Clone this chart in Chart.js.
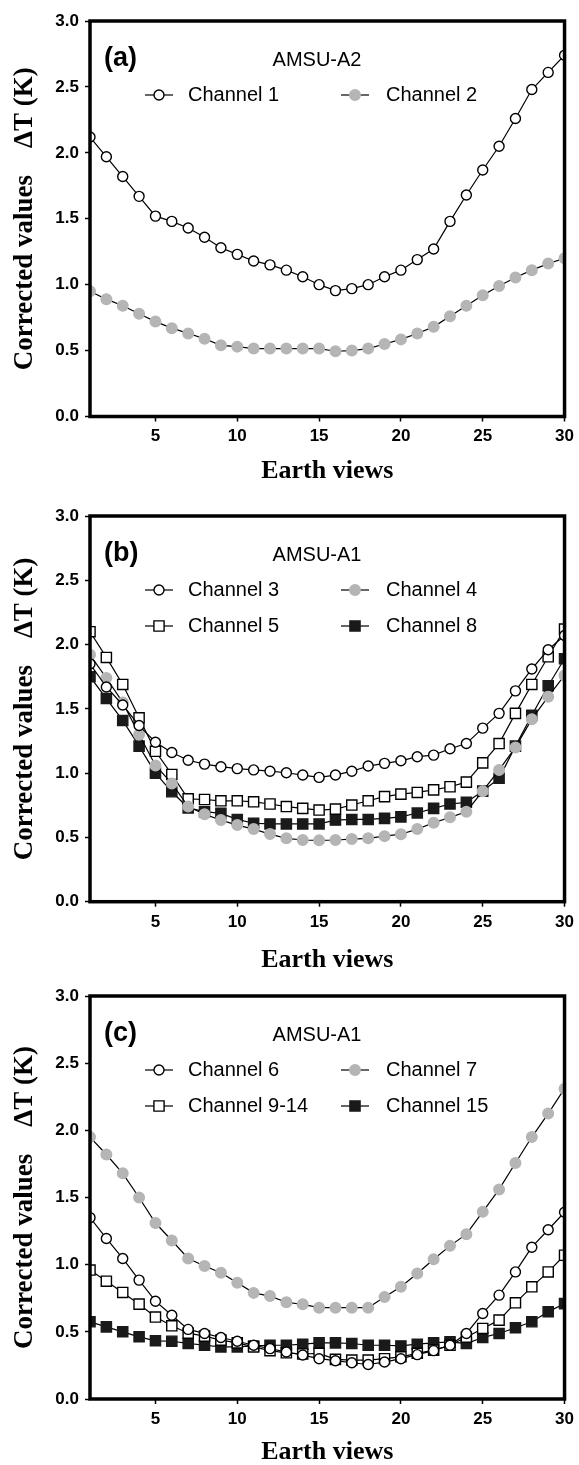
<!DOCTYPE html>
<html lang="en">

<head>
    <meta charset="UTF-8">
    <title>Corrected values by earth view</title>
    <script src="https://cdn.jsdelivr.net/npm/chart.js@4.4.0/dist/chart.umd.min.js"></script>
    <style>
        body {
            margin: 0;
            padding: 0;
            background-color: #fff;
            overflow: hidden;
        }

        .panel {
            position: absolute;
            left: 0;
        }
    </style>
</head>

<body>
    <canvas id="panelA" class="panel" width="579" height="490" style="top:0px"></canvas>
    <canvas id="panelB" class="panel" width="579" height="490" style="top:490px"></canvas>
    <canvas id="panelC" class="panel" width="579" height="490" style="top:975px"></canvas>

    <script>
        // earth view positions and axis ticks
        const views = [1, 2, 3, 4, 5, 6, 7, 8, 9, 10, 11, 12, 13, 14, 15, 16, 17, 18, 19, 20, 21, 22, 23, 24, 25, 26, 27, 28, 29, 30];
        const xTicks = [5, 10, 15, 20, 25, 30];
        const yTicks = [0, 0.5, 1.0, 1.5, 2.0, 2.5, 3.0];

        // (a) AMSU-A2
        const ch1 = [2.12, 1.97, 1.82, 1.67, 1.52, 1.48, 1.43, 1.36, 1.28, 1.23, 1.18, 1.15, 1.11, 1.06, 1.00, 0.955, 0.97, 1.00, 1.06, 1.11, 1.19, 1.27, 1.48, 1.68, 1.87, 2.05, 2.26, 2.48, 2.61, 2.74];
        const ch2 = [0.95, 0.89, 0.84, 0.78, 0.72, 0.67, 0.63, 0.59, 0.54, 0.53, 0.515, 0.515, 0.515, 0.515, 0.515, 0.495, 0.50, 0.515, 0.55, 0.585, 0.63, 0.68, 0.76, 0.84, 0.92, 0.99, 1.055, 1.11, 1.16, 1.20];

        // (b) AMSU-A1
        const ch3 = [1.85, 1.67, 1.53, 1.37, 1.24, 1.16, 1.10, 1.07, 1.05, 1.035, 1.025, 1.015, 1.003, 0.985, 0.967, 0.985, 1.015, 1.055, 1.076, 1.096, 1.128, 1.14, 1.19, 1.23, 1.35, 1.465, 1.64, 1.81, 1.96, 2.07];
        const ch4 = [1.92, 1.74, 1.55, 1.30, 1.06, 0.92, 0.74, 0.68, 0.635, 0.596, 0.565, 0.526, 0.493, 0.48, 0.477, 0.48, 0.487, 0.493, 0.51, 0.525, 0.565, 0.614, 0.656, 0.70, 0.86, 1.025, 1.20, 1.42, 1.595, 1.76];
        const ch5 = [2.10, 1.90, 1.69, 1.43, 1.17, 0.99, 0.80, 0.795, 0.785, 0.785, 0.777, 0.76, 0.74, 0.726, 0.713, 0.72, 0.752, 0.785, 0.817, 0.837, 0.85, 0.87, 0.894, 0.93, 1.08, 1.23, 1.465, 1.69, 1.905, 2.12];
        const ch8 = [1.75, 1.58, 1.41, 1.21, 1.00, 0.855, 0.73, 0.70, 0.687, 0.64, 0.61, 0.605, 0.605, 0.605, 0.605, 0.635, 0.64, 0.64, 0.648, 0.66, 0.69, 0.726, 0.76, 0.773, 0.86, 0.96, 1.21, 1.45, 1.68, 1.89];

        // (c) AMSU-A1
        const ch6 = [1.35, 1.195, 1.046, 0.885, 0.728, 0.624, 0.518, 0.488, 0.458, 0.43, 0.40, 0.375, 0.35, 0.327, 0.30, 0.285, 0.27, 0.257, 0.275, 0.30, 0.33, 0.36, 0.40, 0.488, 0.637, 0.773, 0.946, 1.13, 1.26, 1.39];
        const ch7 = [1.95, 1.82, 1.68, 1.50, 1.31, 1.18, 1.046, 0.99, 0.94, 0.865, 0.79, 0.766, 0.72, 0.705, 0.68, 0.68, 0.68, 0.68, 0.76, 0.835, 0.934, 1.04, 1.14, 1.227, 1.393, 1.56, 1.757, 1.95, 2.125, 2.31];
        const ch914 = [0.96, 0.877, 0.793, 0.706, 0.61, 0.545, 0.49, 0.468, 0.438, 0.418, 0.388, 0.36, 0.344, 0.335, 0.34, 0.295, 0.29, 0.29, 0.30, 0.314, 0.34, 0.364, 0.40, 0.46, 0.525, 0.587, 0.716, 0.835, 0.946, 1.07];
        const ch15 = [0.575, 0.537, 0.50, 0.463, 0.433, 0.43, 0.414, 0.40, 0.388, 0.388, 0.395, 0.40, 0.40, 0.408, 0.418, 0.418, 0.413, 0.40, 0.40, 0.395, 0.408, 0.418, 0.425, 0.413, 0.458, 0.488, 0.53, 0.575, 0.65, 0.71];

        const GRAY = '#b5b5b5';
        const SANS = '"Liberation Sans", Arial, sans-serif';
        const SERIF = '"Liberation Serif", "Times New Roman", serif';

        // marker looks, reused by the plot and the legend
        const openCircle = { pointStyle: 'circle', pointRadius: 5, pointBackgroundColor: '#fff', pointBorderColor: '#000' };
        const grayCircle = { pointStyle: 'circle', pointRadius: 5.3, pointBackgroundColor: GRAY, pointBorderColor: GRAY };
        const openSquare = { pointStyle: 'rect', pointRadius: 7.2, pointBackgroundColor: '#fff', pointBorderColor: '#000' };
        const blackSquare = { pointStyle: 'rect', pointRadius: 7.2, pointBackgroundColor: '#1a1a1a', pointBorderColor: '#1a1a1a' };

        function series(label, values, marker) {
            return Object.assign({
                label: label,
                data: views.map((v, i) => ({ x: v, y: values[i] })),
                borderColor: '#000',
                borderWidth: 1.2,
                pointBorderWidth: 1.4,
                tension: 0
            }, marker);
        }

        // box around the plot, the panel tag and the in-plot legend
        const panelLegend = {
            id: 'panelLegend',
            afterDraw(chart) {
                const opts = chart.options.plugins.panelLegend;
                const area = chart.chartArea;
                const ctx = chart.ctx;
                ctx.save();

                ctx.strokeStyle = '#000';
                ctx.lineWidth = 3.5;
                ctx.strokeRect(area.left, area.top, area.right - area.left, area.bottom - area.top);

                ctx.fillStyle = '#000';
                ctx.textBaseline = 'middle';
                ctx.font = 'bold 27px ' + SANS;
                ctx.textAlign = 'left';
                ctx.fillText(opts.tag, 104, area.top + 38);

                ctx.font = '20px ' + SANS;
                ctx.textAlign = 'center';
                ctx.fillText(opts.sensor, 317, area.top + 39);

                const markX = [159, 355];
                const textX = [188, 386];
                chart.data.datasets.forEach((ds, i) => {
                    const col = i % 2;
                    const y = area.top + 74 + Math.floor(i / 2) * 36;
                    const x = markX[col];

                    ctx.strokeStyle = '#000';
                    ctx.lineWidth = 1.2;
                    ctx.beginPath();
                    ctx.moveTo(x - 14, y);
                    ctx.lineTo(x + 14, y);
                    ctx.stroke();

                    ctx.fillStyle = ds.pointBackgroundColor;
                    ctx.strokeStyle = ds.pointBorderColor;
                    ctx.lineWidth = ds.pointBorderWidth;
                    ctx.beginPath();
                    if (ds.pointStyle === 'rect') {
                        const s = ds.pointRadius * Math.SQRT1_2;
                        ctx.rect(x - s, y - s, 2 * s, 2 * s);
                    } else {
                        ctx.arc(x, y, ds.pointRadius, 0, Math.PI * 2);
                    }
                    ctx.fill();
                    ctx.stroke();

                    ctx.fillStyle = '#000';
                    ctx.textAlign = 'left';
                    ctx.font = '20px ' + SANS;
                    ctx.fillText(ds.label, textX[col], y);
                });

                ctx.restore();
            }
        };

        function makePanel(id, datasets, tag, sensor, padTop, axisHeight, titlePad) {
            return new Chart(document.getElementById(id), {
                type: 'line',
                data: { datasets: datasets },
                options: {
                    responsive: false,
                    animation: false,
                    layout: { padding: { top: padTop, right: 12, left: 0, bottom: 0 } },
                    plugins: {
                        legend: { display: false },
                        tooltip: { enabled: false },
                        panelLegend: { tag: tag, sensor: sensor }
                    },
                    scales: {
                        x: {
                            type: 'linear',
                            min: 1,
                            max: 30,
                            afterBuildTicks: (s) => { s.ticks = xTicks.map(v => ({ value: v })); },
                            afterFit: (s) => { s.height = axisHeight; },
                            border: { display: false },
                            grid: { drawOnChartArea: false, tickLength: 5, tickWidth: 1.5, tickColor: '#000' },
                            ticks: { padding: 5, color: '#000', maxRotation: 0, autoSkip: false, font: { family: SANS, size: 17, weight: 'bold' } },
                            title: {
                                display: true,
                                text: 'Earth views',
                                color: '#000',
                                font: { family: SERIF, size: 26, weight: 'bold', lineHeight: 1 },
                                padding: { top: 0, bottom: titlePad }
                            }
                        },
                        y: {
                            min: 0,
                            max: 3,
                            afterBuildTicks: (s) => { s.ticks = yTicks.map(v => ({ value: v })); },
                            afterFit: (s) => { s.width = 90; },
                            border: { display: false },
                            grid: { drawOnChartArea: false, tickLength: 5, tickWidth: 1.5, tickColor: '#000' },
                            ticks: {
                                padding: 6,
                                color: '#000',
                                font: { family: SANS, size: 17, weight: 'bold' },
                                callback: (v) => v.toFixed(1)
                            },
                            title: {
                                display: true,
                                text: 'Corrected values\u2003\u0394T (K)',
                                color: '#000',
                                font: { family: SERIF, size: 27, weight: 'bold', lineHeight: 1 },
                                padding: { top: 12, bottom: 0 }
                            }
                        }
                    }
                },
                plugins: [panelLegend]
            });
        }

        makePanel('panelA', [
            series('Channel 1', ch1, openCircle),
            series('Channel 2', ch2, grayCircle)
        ], '(a)', 'AMSU-A2', 21, 73.5, 6);

        makePanel('panelB', [
            series('Channel 3', ch3, openCircle),
            series('Channel 4', ch4, grayCircle),
            series('Channel 5', ch5, openSquare),
            series('Channel 8', ch8, blackSquare)
        ], '(b)', 'AMSU-A1', 26, 78.3, 7);

        makePanel('panelC', [
            series('Channel 6', ch6, openCircle),
            series('Channel 7', ch7, grayCircle),
            series('Channel 9-14', ch914, openSquare),
            series('Channel 15', ch15, blackSquare)
        ], '(c)', 'AMSU-A1', 21, 66, 0);
    </script>
</body>

</html>
